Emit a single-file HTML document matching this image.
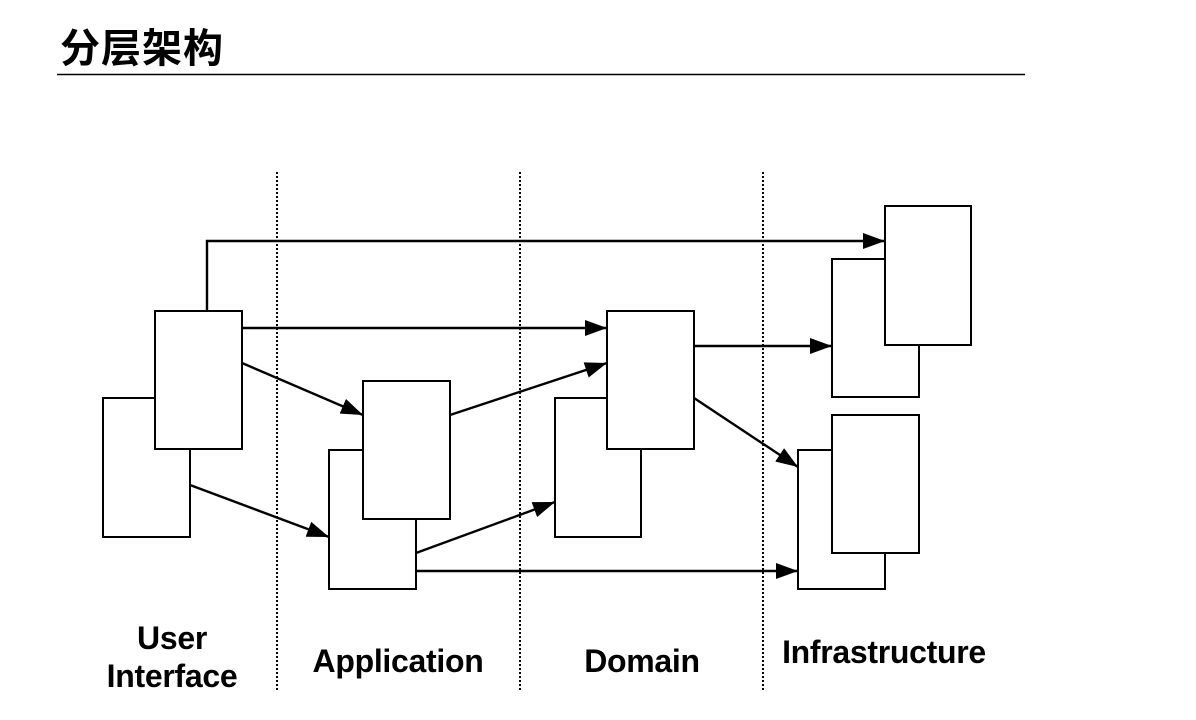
<!DOCTYPE html>
<html><head><meta charset="utf-8"><style>
body{margin:0;background:#fff;width:1196px;height:720px;overflow:hidden;position:relative;font-family:"Liberation Sans","Noto Sans CJK SC",sans-serif}
.t{position:absolute;left:60px;top:16px;font-size:40px;font-weight:bold;letter-spacing:1px;font-family:"Liberation Sans","Noto Sans CJK SC",sans-serif}
.l{position:absolute;font-weight:bold;font-size:32px;text-align:center;line-height:38px;letter-spacing:-0.3px}
</style></head><body>
<div class="t">分层架构</div>
<svg width="1196" height="720" style="position:absolute;left:0;top:0">
<defs><marker id="a" markerWidth="22" markerHeight="16" refX="22" refY="8" orient="auto" markerUnits="userSpaceOnUse"><path d="M0,0 L22,8 L0,16 z" fill="#000"/></marker></defs>
<line x1="57" y1="74.5" x2="1025" y2="74.5" stroke="#000" stroke-width="1.5"/>
<g stroke="#000" stroke-width="2" stroke-dasharray="2,2">
<line x1="277" y1="172" x2="277" y2="690"/><line x1="520" y1="172" x2="520" y2="690"/><line x1="763" y1="172" x2="763" y2="690"/></g>
<g stroke="#000" stroke-width="2" fill="#fff">
<rect x="103" y="398" width="87" height="139"/><rect x="155" y="311" width="87" height="138"/>
<rect x="329" y="450" width="87" height="139"/><rect x="363" y="381" width="87" height="138"/>
<rect x="555" y="398" width="86" height="139"/><rect x="607" y="311" width="87" height="138"/>
<rect x="832" y="259" width="87" height="138"/><rect x="885" y="206" width="86" height="139"/>
<rect x="798" y="450" width="87" height="139"/><rect x="832" y="415" width="87" height="138"/>
</g>
<g stroke="#000" stroke-width="2.4" fill="none" marker-end="url(#a)">
<polyline points="207,311 207,241 885,241"/>
<line x1="242" y1="328" x2="607" y2="328"/>
<line x1="242" y1="363" x2="363" y2="415"/>
<line x1="190" y1="485" x2="329" y2="537"/>
<line x1="450" y1="415" x2="607" y2="363"/>
<line x1="416" y1="553" x2="555" y2="502"/>
<line x1="416" y1="571" x2="798" y2="571"/>
<line x1="694" y1="346" x2="832" y2="346"/>
<line x1="694" y1="398" x2="798" y2="467"/>
</g>
</svg>
<div class="l" style="left:82px;top:619px;width:180px">User<br>Interface</div>
<div class="l" style="left:288px;top:642px;width:220px">Application</div>
<div class="l" style="left:552px;top:642px;width:180px">Domain</div>
<div class="l" style="left:754px;top:633px;width:260px">Infrastructure</div>
</body></html>
